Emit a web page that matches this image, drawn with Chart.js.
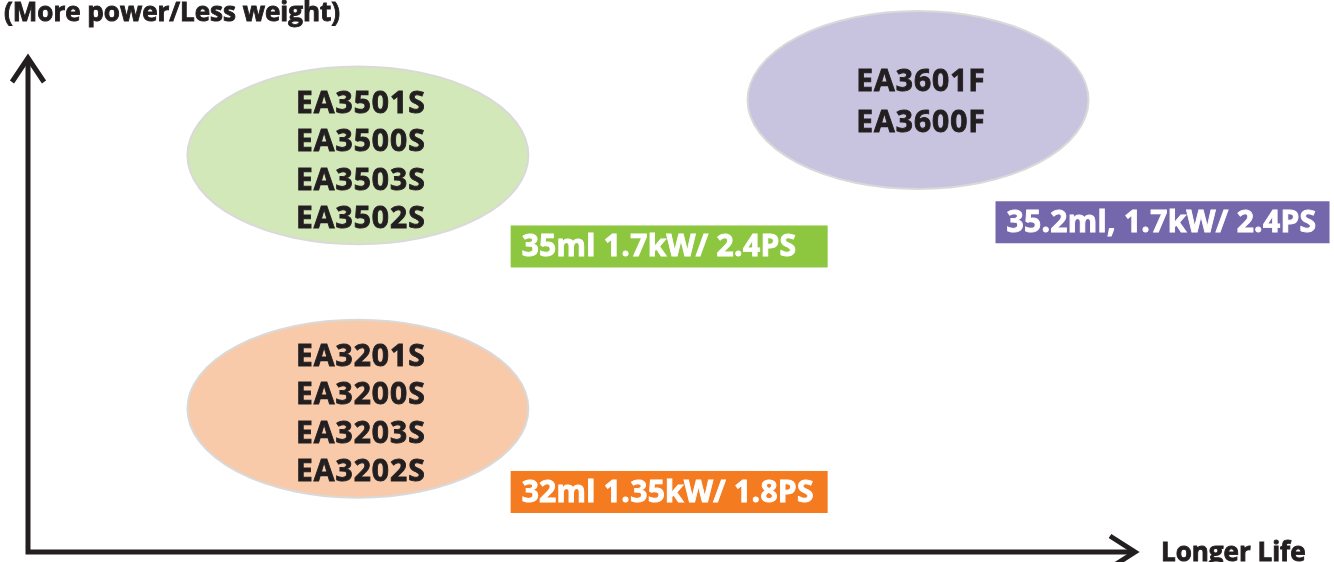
<!DOCTYPE html>
<html>
<head>
<meta charset="utf-8">
<script src="https://cdn.jsdelivr.net/npm/chart.js@4/dist/chart.umd.min.js"></script>
<style>
  html,body{margin:0;padding:0;background:#fff;}
  #wrap{width:1334px;height:562px;position:relative;}
</style>
</head>
<body>
<div id="wrap"><canvas id="chart"></canvas></div>
<script>
// Gruppen (Serien) – Lage auf den beiden Achsen, 0..100
const groups   = ['EA35', 'EA32', 'EA36'];
const life     = [29.8, 29.8, 80.4];   // x: Longer Life
const power    = [80.3, 29.0, 91.5];   // y: More power / Less weight
const models   = [
  ['EA3501S', 'EA3500S', 'EA3503S', 'EA3502S'],
  ['EA3201S', 'EA3200S', 'EA3203S', 'EA3202S'],
  ['EA3601F', 'EA3600F']
];
// Datenkästen (Hubraum / Leistung)
const specs    = ['35ml 1.7kW/ 2.4PS', '32ml 1.35kW/ 1.8PS', '35.2ml, 1.7kW/ 2.4PS'];
const specLife = [43.6, 43.6, 87.4];
const specPow  = [66.1, 16.4, 71.0];

const yTitle = '(More power/Less weight)';
const xTitle = 'Longer Life';

// Stil
const FONT = '"Open Sans", "Noto Sans", sans-serif';
const INK = '#231f20';
const fills  = ['#d3e8b8', '#f8caa9', '#c8c3df'];
const boxes  = ['#8dc63f', '#f47b20', '#7467ac'];
const boxW   = [317, 317, 334];
const lineH  = [38.5, 38.5, 41];
const RX = 15.4, RY = 18.0;   // Halbachsen der Ellipsen in Achseneinheiten

function boldText(ctx, s, x, y, col){
  ctx.fillStyle = col; ctx.strokeStyle = col; ctx.lineWidth = 0.9;
  ctx.fillText(s, x, y); ctx.strokeText(s, x, y);
}

const diagram = {
  id: 'diagram',
  afterDatasetsDraw(c){
    const ctx = c.ctx, a = c.chartArea, sx = c.scales.x, sy = c.scales.y;
    ctx.save();

    // Achsen mit Pfeilen
    ctx.strokeStyle = INK; ctx.lineWidth = 5; ctx.lineJoin = 'miter'; ctx.lineCap = 'butt';
    ctx.beginPath();
    ctx.moveTo(a.left, a.bottom + 2.5); ctx.lineTo(a.left, a.top);
    ctx.moveTo(a.left - 2.5, a.bottom); ctx.lineTo(a.right, a.bottom);
    ctx.stroke();
    ctx.beginPath();
    ctx.moveTo(a.left - 16, a.top + 24); ctx.lineTo(a.left, a.top); ctx.lineTo(a.left + 16, a.top + 24);
    ctx.moveTo(a.right - 25, a.bottom - 16); ctx.lineTo(a.right, a.bottom); ctx.lineTo(a.right - 25, a.bottom + 16);
    ctx.stroke();

    // Achsentitel
    ctx.font = 'bold 26px ' + FONT;
    ctx.textAlign = 'left'; ctx.textBaseline = 'alphabetic';
    boldText(ctx, yTitle, 4, 21, INK);
    boldText(ctx, xTitle, a.right + 26, 561, INK);

    // Ellipsen mit Modellnamen
    const rx = sx.getPixelForValue(RX) - sx.getPixelForValue(0);
    const ry = sy.getPixelForValue(0) - sy.getPixelForValue(RY);
    c.getDatasetMeta(0).data.forEach(function(pt, i){
      ctx.beginPath();
      ctx.ellipse(pt.x, pt.y, rx, ry, 0, 0, Math.PI * 2);
      ctx.fillStyle = fills[i]; ctx.fill();
      ctx.strokeStyle = '#d9d9d9'; ctx.lineWidth = 2; ctx.stroke();
      const list = models[i], n = list.length;
      ctx.font = 'bold 30px ' + FONT; ctx.textAlign = 'center'; ctx.letterSpacing = '1px';
      list.forEach(function(m, j){
        boldText(ctx, m, pt.x + 3, pt.y + (j - (n - 1) / 2) * lineH[i] + (n > 2 ? 15 : 12), INK);
      });
    });

    // Kästen mit Leistungsdaten
    c.getDatasetMeta(1).data.forEach(function(pt, i){
      ctx.fillStyle = boxes[i];
      ctx.fillRect(pt.x, pt.y, boxW[i], 42);
      ctx.font = 'bold 30px ' + FONT; ctx.textAlign = 'left'; ctx.letterSpacing = '0.3px';
      boldText(ctx, specs[i], pt.x + 11, pt.y + 31, '#fff');
    });
    ctx.restore();
  }
};

new Chart(document.getElementById('chart').getContext('2d'), {
  type: 'scatter',
  data: { datasets: [
    { label: 'Serien', data: groups.map(function(g, i){ return { x: life[i], y: power[i] }; }), pointRadius: 0, pointHoverRadius: 0 },
    { label: 'Daten',  data: specs.map(function(s, i){ return { x: specLife[i], y: specPow[i] }; }), pointRadius: 0, pointHoverRadius: 0 }
  ]},
  options: {
    responsive: true, maintainAspectRatio: false, animation: false,
    layout: { padding: { left: 28, right: 199, top: 58, bottom: 10 } },
    plugins: { legend: { display: false }, tooltip: { enabled: false } },
    scales: {
      x: { type: 'linear', min: 0, max: 100, display: false },
      y: { type: 'linear', min: 0, max: 100, display: false }
    }
  },
  plugins: [diagram]
});
</script>
</body>
</html>
